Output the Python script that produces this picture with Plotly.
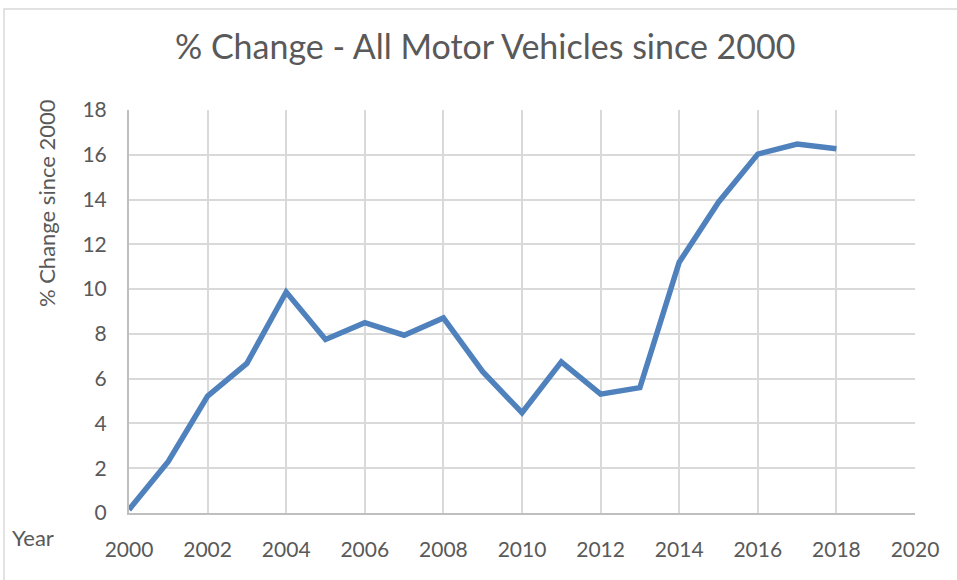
import plotly.graph_objects as go

# Data
years = list(range(2000, 2019))
pct_change = [0.15, 2.3, 5.22, 6.68, 9.87, 7.75, 8.5, 7.94, 8.71, 6.31,
              4.48, 6.75, 5.31, 5.6, 11.2, 13.88, 16.03, 16.48, 16.27]

x_ticks = list(range(2000, 2021, 2))
y_ticks = list(range(0, 19, 2))

font_family = "Lato, Open Sans, sans-serif"
grey_txt = "#595959"
grid_col = "#d9d9d9"

fig = go.Figure()
fig.add_trace(go.Scatter(x=years, y=pct_change, mode="lines",
                         line=dict(color="#4f81bd", width=5.5),
                         showlegend=False))

fig.update_layout(
    width=957, height=580,
    margin=dict(l=129, r=42, t=110, b=67),
    paper_bgcolor="white", plot_bgcolor="white",
    font=dict(family=font_family, color=grey_txt, size=21),
    title=dict(text="% Change - All Motor Vehicles since 2000",
               x=0.507, xref="container", xanchor="center",
               y=0.919, yref="container", yanchor="middle",
               font=dict(size=34, color=grey_txt)),
    xaxis=dict(range=[2000, 2020], tickvals=x_ticks, showgrid=True,
               gridcolor=grid_col, gridwidth=2, zeroline=False,
               showline=True, linecolor="#bfbfbf", linewidth=2,
               ticks="", ticklabelstandoff=17),
    yaxis=dict(range=[0, 18], tickvals=y_ticks, showgrid=True,
               gridcolor=grid_col, gridwidth=2, zeroline=False,
               showline=True, linecolor="#bfbfbf", linewidth=2,
               ticks="", ticklabelstandoff=16),
    annotations=[
        dict(text="% Change since 2000", textangle=-90, xref="paper", yref="paper",
             x=-0.1056, y=0.769, xanchor="center", yanchor="middle", showarrow=False,
             font=dict(size=22, color=grey_txt)),
        dict(text="Year", xref="paper", yref="paper", x=-0.1514, y=-0.0596,
             xanchor="left", yanchor="middle", showarrow=False,
             font=dict(size=22, color=grey_txt)),
    ],
    shapes=[dict(type="rect", xref="paper", yref="paper",
                 x0=-0.159, x1=1.06, y0=-0.2, y1=1.2506,
                 line=dict(color="#d9d9d9", width=1.5))],
)

# drop the default page margin so the figure sits at the window corner
fig.write_html("out.html", config={"displayModeBar": False},
               post_script="document.body.style.margin='0';")
